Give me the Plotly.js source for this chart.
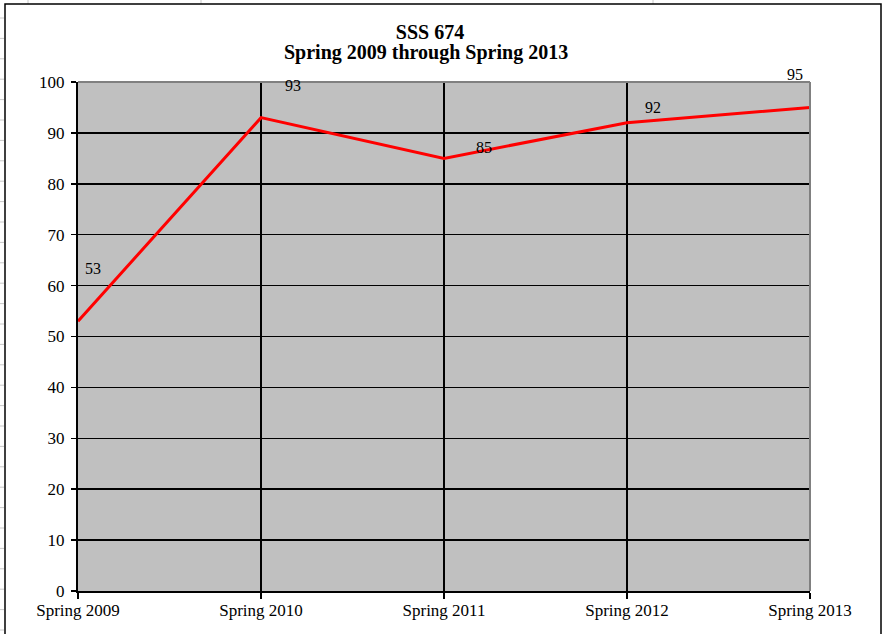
<!DOCTYPE html>
<html>
<head>
<meta charset="utf-8">
<script src="https://cdn.plot.ly/plotly-3.0.1.min.js"></script>
<style>
html,body{margin:0;padding:0;background:#fff;}
#chart{width:883px;height:634px;}
</style>
</head>
<body>
<div id="chart"></div>
<script>
var categories = ["Spring 2009", "Spring 2010", "Spring 2011", "Spring 2012", "Spring 2013"];
var scores = [53, 93, 85, 92, 95];
var yTicks = [0, 10, 20, 30, 40, 50, 60, 70, 80, 90, 100];
var titleLine1 = "SSS 674";
var titleLine2 = "Spring 2009 through Spring 2013";

// label offsets in pixels (style only)
var labelDx = [15, 32, 40, 26, -15];
var labelDy = [53, 32, 11, 15, 33];

var W = 883, H = 634, L = 78, R = 73, T = 82, B = 43;
var pw = W - L - R, ph = H - T - B;
function px(x){ return (x - L) / pw; }
function py(y){ return (H - B - y) / ph; }

var serif = 'Liberation Serif, Times New Roman, serif';
var xIdx = categories.map(function(c, i){ return i; });

var annotations = scores.map(function(v, i){
  return {
    x: xIdx[i], y: v, xref: 'x', yref: 'y', text: String(v),
    showarrow: false, xshift: labelDx[i], yshift: labelDy[i],
    font: {family: serif, size: 16, color: '#000'}
  };
});
annotations.push({
  xref: 'paper', yref: 'paper', x: px(426), y: py(52), xanchor: 'center', yanchor: 'middle',
  text: '<b>' + titleLine2 + '</b>', showarrow: false,
  font: {family: serif, size: 20, color: '#000'}
});

var shapes = [];
// spreadsheet gridlines behind the chart object
var gridCol = '#c8c8c8';
[28, 201, 653].forEach(function(x){
  shapes.push({type:'line', xref:'paper', yref:'paper', x0:px(x), x1:px(x), y0:py(0), y1:py(4), line:{color:gridCol, width:1}, layer:'below'});
});
for (var r = 18; r < H; r += 20.4) {
  shapes.push({type:'line', xref:'paper', yref:'paper', x0:px(0), x1:px(4), y0:py(r), y1:py(r), line:{color:gridCol, width:1}, layer:'below'});
}
// chart object border
shapes.push({type:'rect', xref:'paper', yref:'paper', x0:px(5), x1:px(881), y0:py(645), y1:py(4), line:{color:'#000', width:1.5}, fillcolor:'rgba(0,0,0,0)', layer:'below'});
// plot area frame top/right (gray)
shapes.push({type:'line', xref:'paper', yref:'paper', x0:0, x1:1, y0:1, y1:1, line:{color:'#808080', width:2}});
shapes.push({type:'line', xref:'paper', yref:'paper', x0:1, x1:1, y0:0, y1:1, line:{color:'#808080', width:2}});

var trace = {
  x: xIdx, y: scores, type: 'scatter', mode: 'lines',
  line: {color: '#ff0000', width: 3},
  hoverinfo: 'skip', cliponaxis: false
};

var tickFont = {family: serif, size: 17, color: '#000'};

var layout = {
  width: W, height: H,
  margin: {l: L, r: R, t: T, b: B, pad: 0},
  paper_bgcolor: 'rgba(0,0,0,0)',
  plot_bgcolor: '#c0c0c0',
  showlegend: false,
  title: {
    text: '<b>' + titleLine1 + '</b>',
    font: {family: serif, size: 20, color: '#000'},
    x: 430 / W, xref: 'container', xanchor: 'center',
    y: 1 - 32 / H, yref: 'container', yanchor: 'middle'
  },
  xaxis: {
    range: [0, 4], tickvals: xIdx, ticktext: categories,
    showgrid: true, gridcolor: '#000', gridwidth: 1.5,
    zeroline: false,
    showline: true, linecolor: '#000', linewidth: 2,
    ticks: 'outside', ticklen: 6, tickcolor: '#000', tickwidth: 1.5,
    ticklabelstandoff: -3,
    tickfont: tickFont, fixedrange: true
  },
  yaxis: {
    range: [0, 100], tickvals: yTicks,
    showgrid: true, gridcolor: '#000', gridwidth: 1.5,
    zeroline: false,
    showline: true, linecolor: '#000', linewidth: 2,
    ticks: 'outside', ticklen: 5, tickcolor: '#000', tickwidth: 1.5,
    ticklabelstandoff: 3,
    tickfont: tickFont, fixedrange: true
  },
  annotations: annotations,
  shapes: shapes
};

Plotly.newPlot('chart', [trace], layout, {displayModeBar: false, staticPlot: true});
</script>
</body>
</html>
